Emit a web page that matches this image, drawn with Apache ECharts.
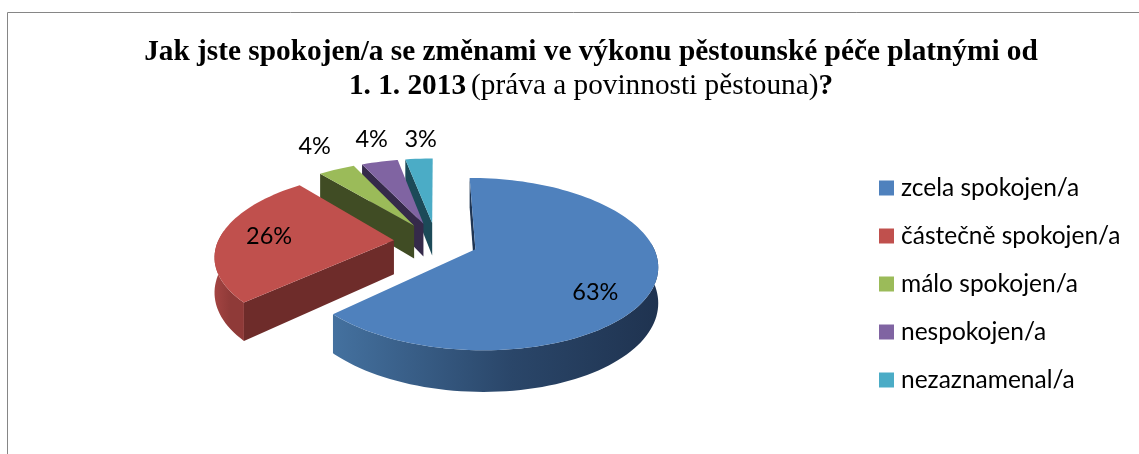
<!DOCTYPE html>
<html>
<head>
<meta charset="utf-8">
<title>Spokojenost se změnami</title>
<style>
  html, body { margin: 0; padding: 0; background: #fff; }
  #chart { width: 1139px; height: 454px; }
</style>
<script src="https://cdn.jsdelivr.net/npm/echarts@6/dist/echarts.min.js"></script>
</head>
<body>
<div id="chart"></div>
<script>
const categories = ['zcela spokojen/a', 'částečně spokojen/a', 'málo spokojen/a', 'nespokojen/a', 'nezaznamenal/a']
const shares = [63, 26, 4, 4, 3]

const topColors = ['#4f81bd', '#c0504d', '#9bbb59', '#8064a2', '#4bacc6']
const faceColors = ['#1f3553', '#6e2c2a', '#404c24', '#352a4a', '#1c4a58']
const rimFrom = ['#44719f', '#a34442', '#6a7f3a', '#55436e', '#30748a']
const rimTo = ['#1f3350', '#8f3a38', '#404c24', '#352a4a', '#1c4a58']
// label placement: distance from the slice tip in pie radii, turn from the mid angle in degrees
const labelDist = [0.764, 0.72, 1.45, 1.42, 1.36]
const labelTurn = [15, 0, 2.2, 2.1, 1.7]

// tilted pie: ground plane (X, Y) with radius 1, seen in perspective
const cx = 436
const cy = 241.5
const radiusX = 176
const radiusY = 81
const depth = 34
const persp = 0.168
const explode = 0.24
const firstAngle = 0

const total = shares.reduce((a, b) => a + b, 0)
const toRad = (deg) => (deg * Math.PI) / 180

const project = (X, Y, z) => {
  const s = 1 / (1 - persp * Y)
  return [cx + radiusX * X * s, cy + (radiusY * Y + depth * z) * s]
}

const sliceAngles = (i) => {
  const before = shares.slice(0, i).reduce((a, b) => a + b, 0)
  return [firstAngle + (before / total) * 360, firstAngle + ((before + shares[i]) / total) * 360]
}

const renderSlice = (params) => {
  const i = params.seriesIndex
  const [start, end] = sliceAngles(i)
  const mid = toRad((start + end) / 2)
  const ox = explode * Math.sin(mid)
  const oy = -explode * Math.cos(mid)
  const rim = (deg, z, r = 1) => project(ox + r * Math.sin(toRad(deg)), oy - r * Math.cos(toRad(deg)), z)

  const arcTop = []
  for (let a = start; a < end; a += 2) arcTop.push(a)
  arcTop.push(end)

  const children = []

  // radial face on the start side
  if (Math.sin(toRad(start)) <= 0) {
    children.push({
      type: 'polygon',
      shape: { points: [project(ox, oy, 0), rim(start, 0), rim(start, 1), project(ox, oy, 1)] },
      style: { fill: faceColors[i] }
    })
  }

  // outer wall, only the part turned to the viewer
  const front = arcTop.filter((a) => a > 85 && a < 278)
  if (front.length > 1) {
    const upper = front.map((a) => rim(a, 0))
    const lower = front.map((a) => rim(a, 1)).reverse()
    const xs = upper.map((p) => p[0])
    const left = Math.min(...xs)
    const right = Math.max(...xs)
    children.push({
      type: 'polygon',
      shape: { points: upper.concat(lower) },
      style: {
        fill: {
          type: 'linear',
          global: true,
          x: left,
          y: 0,
          x2: right,
          y2: 0,
          colorStops: [
            { offset: 0, color: rimFrom[i] },
            { offset: 0.55, color: i === 0 ? '#2a4669' : rimTo[i] },
            { offset: 1, color: rimTo[i] }
          ]
        }
      }
    })
  }

  // top face
  children.push({
    type: 'polygon',
    shape: { points: [project(ox, oy, 0)].concat(arcTop.map((a) => rim(a, 0))) },
    style: { fill: topColors[i] }
  })

  const labelAt = rim((start + end) / 2 + labelTurn[i], 0, labelDist[i])
  children.push({
    type: 'text',
    style: {
      text: Math.round((shares[i] / total) * 100) + '%',
      x: labelAt[0],
      y: labelAt[1],
      fill: '#000',
      font: '23.5px Lato',
      align: 'center',
      verticalAlign: 'middle'
    }
  })

  return { type: 'group', children }
}

const chart = echarts.init(document.getElementById('chart'), null, { renderer: 'canvas' })

chart.setOption({
  animation: false,
  title: {
    left: 586,
    top: 30,
    textAlign: 'center',
    text: '{b|Jak jste spokojen/a se změnami ve výkonu pěstounské péče platnými od}\n{b|1. 1. 2013} {n|(práva a povinnosti pěstouna)}{b|?}',
    textStyle: {
      fontWeight: 'normal',
      rich: {
        b: { fontFamily: 'Liberation Serif', fontWeight: 'bold', fontSize: 29.3, lineHeight: 34, color: '#000' },
        n: { fontFamily: 'Liberation Serif', fontWeight: 'normal', fontSize: 29.3, lineHeight: 34, color: '#000' }
      }
    }
  },
  legend: {
    orient: 'vertical',
    left: 874,
    top: 170,
    icon: 'rect',
    itemWidth: 15,
    itemHeight: 15,
    itemGap: 22,
    selectedMode: false,
    data: categories,
    textStyle: { fontFamily: 'Lato', fontSize: 24.5, color: '#000', padding: [2, 0, 0, 2], lineHeight: 24 }
  },
  graphic: [
    {
      type: 'rect',
      silent: true,
      shape: { x: 7.5, y: 12.5, width: 1300, height: 600 },
      style: { fill: 'none', stroke: '#868686', lineWidth: 1 }
    }
  ],
  series: categories.map((name, i) => ({
    type: 'custom',
    name,
    coordinateSystem: 'none',
    silent: true,
    z: 10 + categories.length - i,
    itemStyle: { color: topColors[i] },
    data: [shares[i]],
    renderItem: renderSlice
  }))
})
</script>
</body>
</html>
